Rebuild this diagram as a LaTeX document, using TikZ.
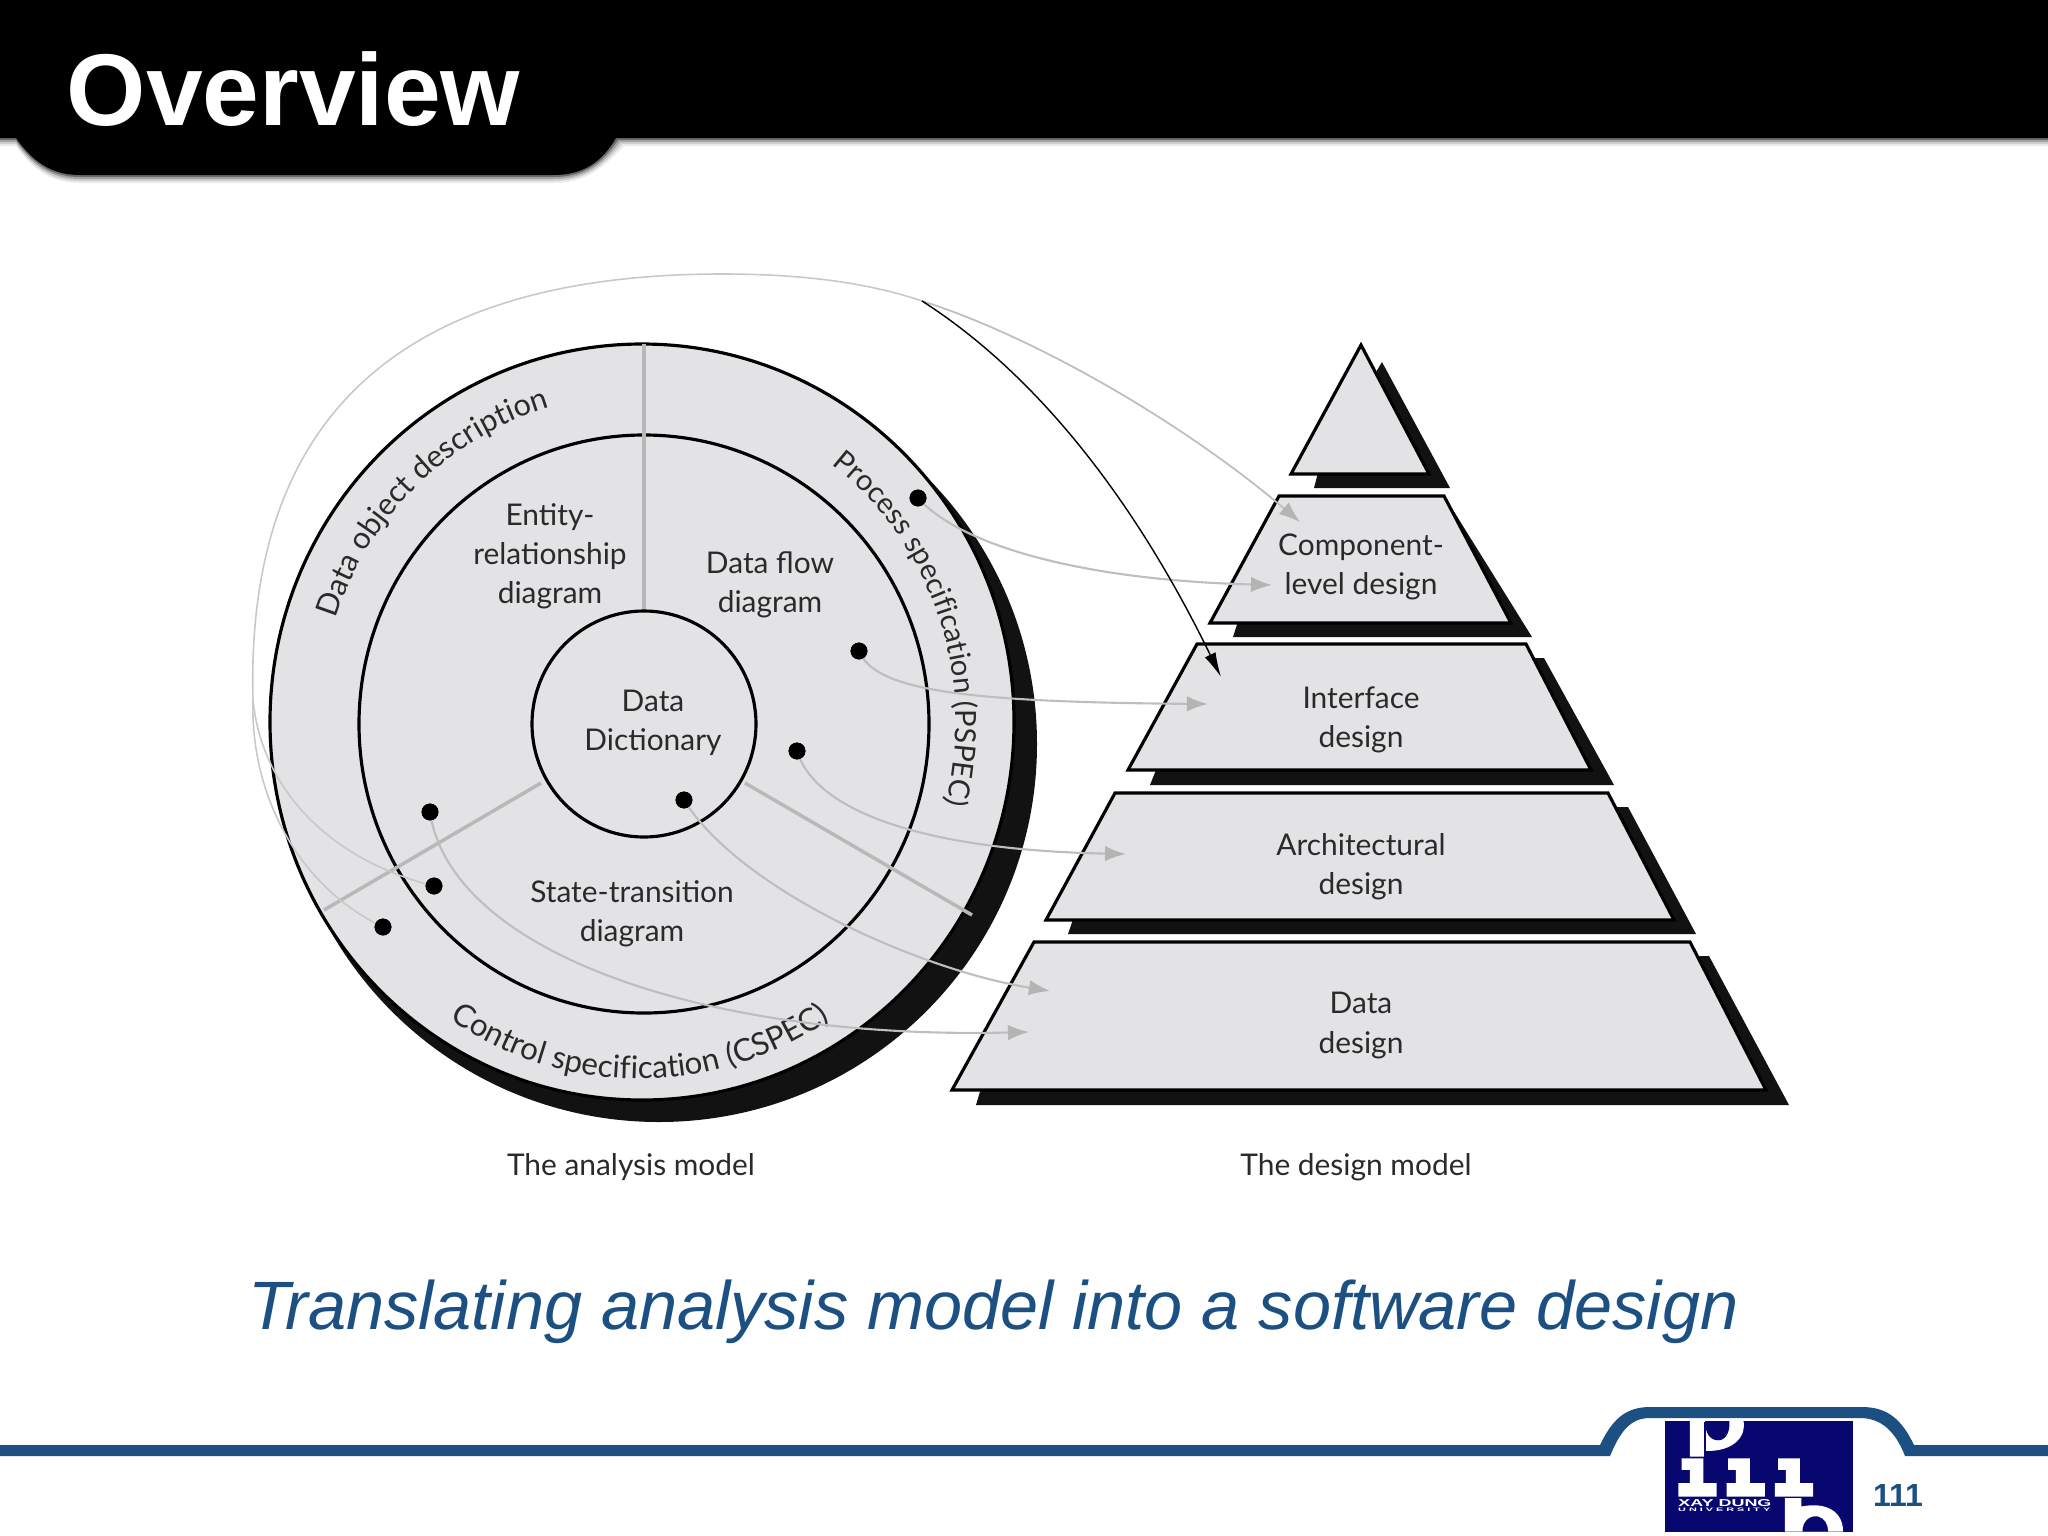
\documentclass[tikz,border=0pt]{standalone}
\usepackage{fontspec}
\usepackage{graphicx}
\setmainfont{Lato}
\newfontfamily\arialfont{Liberation Sans}
\usetikzlibrary{arrows.meta,decorations.text}
\definecolor{facegrey}{HTML}{E3E3E5}
\definecolor{linkgrey}{HTML}{BEBEBE}
\definecolor{tipgrey}{HTML}{B4B4B4}
\definecolor{divgrey}{HTML}{B8B8B8}
\definecolor{barblue}{HTML}{1C4F82}
\definecolor{logonavy}{HTML}{07076F}
\definecolor{inkdark}{HTML}{2A2A2A}
\newcommand{\lblfont}{\fontsize{8.5}{11.1}\selectfont}
\newcommand{\curvefont}{\fontsize{8.3}{10}\selectfont\color{inkdark}}
\newcommand{\curvefontb}{\fontsize{8.7}{10}\selectfont\color{inkdark}}
\newcommand{\curvefontc}{\fontsize{8.9}{10}\selectfont\color{inkdark}}
\tikzset{
  lbl/.style={font=\lblfont,text=inkdark,align=center,inner sep=0pt},
  shadowpoly/.style={fill=black!93,draw=none},
  facepoly/.style={fill=facegrey,draw=black,line width=0.9pt,line join=miter},
  ring/.style={fill=facegrey,draw=black,line width=0.9pt},
  divider/.style={draw=divgrey,line width=1pt},
  dotnode/.style={circle,fill=black,minimum size=4.8pt,inner sep=0pt},
  link/.style={draw=linkgrey,line width=0.6pt},
  linktip/.style={link,-{Latex[length=6pt,width=4.4pt,color=tipgrey]}},
  thinlink/.style={draw=linkgrey!85,line width=0.45pt},
  barshape/.style={fill=barblue,draw=none}
}
\begin{document}
\begin{tikzpicture}[x=0.01cm,y=-0.01cm]
\useasboundingbox (0,0) rectangle (2048,1536);
% header
\foreach \d/\o in {8/0.08,6/0.12,4/0.2,2/0.35}{
  \fill[black,opacity=\o] (0,138+\d) -- (16,138+\d) .. controls (35,165+\d) and (55,175+\d) .. (80,175+\d) -- (554,175+\d) .. controls (585,175+\d) and (603,160+\d) .. (616+\d,138+\d) -- (2048,138+\d) -- (2048,138) -- (0,138) -- cycle;
}
\fill[black] (0,0) -- (2048,0) -- (2048,138) -- (616,138) .. controls (603,160) and (585,175) .. (554,175) -- (80,175) .. controls (55,175) and (35,165) .. (16,138) -- (0,138) -- cycle;
\node[anchor=base west,inner sep=0pt,text=white,font=\arialfont\bfseries\fontsize{29}{32}\selectfont] (title) at (66,125) {Overview};

% analysis model disc
\fill[black!93] (659,744) ellipse [x radius=378,y radius=378];
\draw[ring] (642,722) ellipse [x radius=372,y radius=378];
\draw[ring] (644,724) ellipse [x radius=285,y radius=289];
\coordinate (divTop) at (644,344);
\coordinate (divMid) at (644,612);
\coordinate (divLa) at (541,783);
\coordinate (divLb) at (324,910);
\coordinate (divRa) at (745,783);
\coordinate (divRb) at (972,915);
\draw[divider] (divTop) -- (divMid);
\draw[divider] (divLa) -- (divLb);
\draw[divider] (divRa) -- (divRb);
\draw[ring] (644,724) ellipse [x radius=112,y radius=113];

% curved labels
\path[decorate,decoration={text along path,text align={center},text={|\curvefontb|Data object description}}]
  plot[domain=196:256,samples=40] ({640+321*cos(\x)},{722+328*sin(\x)});
\path[decorate,decoration={text along path,text align={center},text={|\curvefont|Process specification (PSPEC)}}]
  plot[domain=-56:18,samples=40] ({640+316*cos(\x)},{722+324*sin(\x)});
\path[decorate,decoration={text along path,text align={center},text={|\curvefontc|Control specification (CSPEC)}}]
  plot[domain=126:54,samples=40] ({640+345*cos(\x)},{722+357*sin(\x)});

% disc labels
\node[lbl] (erd) at (550,556.5) {Entity-\\relationship\\diagram};
\node[lbl] (dfd) at (770,584.5) {Data flow\\diagram};
\node[lbl] (dict) at (653,722.5) {Data\\Dictionary};
\node[lbl] (std) at (632,913.5) {State-transition\\diagram};

% pyramid
\fill[shadowpoly] (1382,362) -- (1450,488) -- (1314,488) -- (1320,465) -- cycle;
\draw[facepoly] (1361,345) -- (1429,474) -- (1291,474) -- cycle;
\fill[shadowpoly] (1300,510) -- (1453,510) -- (1532,637) -- (1233,637) -- (1240,615) -- cycle;
\draw[facepoly] (1279,496) -- (1444,496) -- (1511,623) -- (1210,623) -- cycle;
\fill[shadowpoly] (1300,658) -- (1544,658) -- (1614,785) -- (1150,785) -- (1160,760) -- cycle;
\draw[facepoly] (1197,644) -- (1526,644) -- (1591,770) -- (1128,770) -- cycle;
\fill[shadowpoly] (1300,807) -- (1628,807) -- (1696,934) -- (1068,934) -- (1078,905) -- cycle;
\draw[facepoly] (1115,793) -- (1608,793) -- (1674,920) -- (1046,920) -- cycle;
\fill[shadowpoly] (1300,956) -- (1709,956) -- (1789,1105) -- (976,1105) -- (985,1075) -- cycle;
\draw[facepoly] (1034,942) -- (1690,942) -- (1766,1090) -- (952,1090) -- cycle;

\node[lbl] (comp) at (1361,566.5) {Component-\\level design};
\node[lbl] (intf) at (1361,719.5) {Interface\\design};
\node[lbl] (arch) at (1361,866.5) {Architectural\\design};
\node[lbl] (data) at (1361,1025.5) {Data\\design};

% connector ends
\node[dotnode] (pa) at (918,498) {};
\node[dotnode] (pb) at (859,651) {};
\node[dotnode] (pc) at (797,751) {};
\node[dotnode] (pd) at (684,800) {};
\node[dotnode] (pe) at (430,812) {};
\node[dotnode] (pf) at (434,886) {};
\node[dotnode] (pg) at (383,927) {};
\coordinate (ta) at (1272,585);
\coordinate (tb) at (1208,704);
\coordinate (tc) at (1126,854);
\coordinate (td) at (1050,991);
\coordinate (te) at (1029,1032);
\coordinate (split) at (922,301);
\coordinate (merge) at (253,700);
\coordinate (peak) at (722,274);
\coordinate (tcomp) at (1300,522);
\coordinate (tintf) at (1221,677);

\draw[linktip] (pa.center) .. controls (960,545) and (1080,580) .. (ta);
\draw[linktip] (pb.center) .. controls (875,690) and (960,702) .. (tb);
\draw[linktip] (pc.center) .. controls (815,810) and (920,850) .. (tc);
\draw[linktip] (pd.center) .. controls (740,890) and (920,970) .. (td);
\draw[linktip] (pe.center) .. controls (450,950) and (700,1040) .. (te);
\draw[thinlink] (pg.center) .. controls (295,885) and (250,790) .. (merge)
   .. controls (245,400) and (420,274) .. (peak)
   .. controls (790,274) and (860,280) .. (split);
\draw[thinlink] (pf.center) .. controls (330,860) and (262,790) .. (merge);
\draw[link,line width=0.5pt,-{Latex[length=6pt,width=4.4pt,color=tipgrey]}] (split) .. controls (1030,335) and (1180,420) .. (tcomp);
\draw[black,line width=0.4pt,-{Latex[length=7pt,width=3.4pt,color=black]}] (split) .. controls (1030,370) and (1130,490) .. (tintf);
\node[dotnode] at (pa) {};
\node[dotnode] at (pb) {};
\node[dotnode] at (pc) {};
\node[dotnode] at (pd) {};
\node[dotnode] at (pe) {};
\node[dotnode] at (pf) {};
\node[dotnode] at (pg) {};

% captions
\node[lbl] (capa) at (631,1167.5) {The analysis model};
\node[lbl] (capd) at (1356,1167.5) {The design model};
\node[anchor=base west,inner sep=0pt,text=barblue,font=\arialfont\itshape\fontsize{19.46}{22}\selectfont] (subtitle) at (248,1329) {Translating analysis model into a software design};

% footer bar
\fill[barshape] (0,1445) -- (1600,1445) .. controls (1612,1420) and (1625,1407) .. (1650,1407) -- (1862,1407) .. controls (1888,1407) and (1902,1420) .. (1914,1445) -- (2048,1445) -- (2048,1456) -- (1905,1456) .. controls (1895,1430) and (1880,1418) .. (1860,1418) -- (1650,1418) .. controls (1630,1418) and (1620,1432) .. (1610,1456) -- (0,1456) -- cycle;
\node[anchor=base,inner sep=0pt,text=barblue,font=\arialfont\bfseries\fontsize{9.1}{11}\selectfont] (pageno) at (1898,1506) {111};

% logo
\fill[logonavy] (1665,1421) rectangle (1853,1532);
\begin{scope}[shift={(1660,1415)},x=0.003333cm,y=-0.003333cm]
  \clip (15,18) rectangle (578,350);
  \fill[white] (90,15) -- (250,15) .. controls (262,60) and (225,110) .. (138,108) -- (138,125) -- (90,125) -- cycle;
  \fill[logonavy] (135,15) .. controls (135,55) and (150,76) .. (175,76) .. controls (198,76) and (212,50) .. (208,15) -- cycle;
  \fill[logonavy] (133,20) rectangle (137,125);
  \fill[white] (65,130) -- (130,130) -- (130,205) -- (170,205) -- (170,245) -- (55,245) -- (55,205) -- (90,205) -- (90,165) -- (65,165) -- cycle;
  \fill[white] (205,130) -- (270,130) -- (270,205) -- (315,205) -- (315,245) -- (200,245) -- (200,205) -- (228,205) -- (228,165) -- (205,165) -- cycle;
  \fill[white] (355,130) -- (420,130) -- (420,205) -- (460,205) -- (460,245) -- (345,245) -- (345,205) -- (378,205) -- (378,165) -- (355,165) -- cycle;
  \fill[white] (375,250) -- (425,250) -- (425,275) .. controls (500,260) and (550,290) .. (550,350) -- (375,350) -- cycle;
  \fill[logonavy] (428,350) .. controls (428,320) and (450,300) .. (475,305) .. controls (495,310) and (505,330) .. (505,350) -- cycle;
  \node[inner sep=0pt,text=white,anchor=center] (logoa) at (195,265) {\resizebox{0.93cm}{0.07cm}{\arialfont\bfseries XAY DUNG}};
  \node[inner sep=0pt,text=white,anchor=center] (logob) at (193,285) {\resizebox{0.92cm}{0.035cm}{\arialfont\bfseries U N I V E R S I T Y}};
\end{scope}
\end{tikzpicture}
\end{document}
